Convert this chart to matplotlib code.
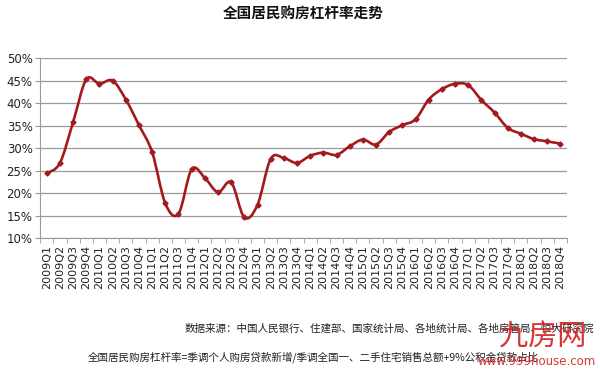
import matplotlib
matplotlib.use("Agg")
import matplotlib.pyplot as plt
from matplotlib.path import Path
from matplotlib.patches import PathPatch
from matplotlib.ticker import FixedLocator, NullFormatter

plt.rcParams['font.family'] = ['Noto Sans CJK SC', 'DejaVu Sans']

# quarters 2009Q1 .. 2018Q4
quarters = [f"{y}Q{q}" for y in range(2009, 2019) for q in range(1, 5)]

# leverage ratio (%)
leverage = [
    24.4, 26.7, 35.8, 45.3,
    44.3, 45.0, 40.8, 35.1,
    29.1, 17.7, 15.4, 25.3,
    23.4, 20.2, 22.4, 14.6,
    17.4, 27.6, 27.8, 26.7,
    28.3, 29.0, 28.5, 30.4,
    31.9, 30.8, 33.6, 35.1,
    36.4, 40.8, 43.1, 44.3,
    44.0, 40.7, 37.9, 34.5,
    33.2, 32.0, 31.5, 31.0,
]

yticks = [10, 15, 20, 25, 30, 35, 40, 45, 50]

title = "全国居民购房杠杆率走势"
source = "数据来源：中国人民银行、住建部、国家统计局、各地统计局、各地房管局、恒大研究院"
note = "全国居民购房杠杆率=季调个人购房贷款新增/季调全国一、二手住宅销售总额+9%公积金贷款占比"

LINE = "#A31A1E"
GRID = "#9A9A9A"


def smooth_path(xs, ys, tension=1 / 6):
    # excel-like smoothed line: cubic bezier segments with catmull-rom handles
    n = len(xs)
    verts = [(xs[0], ys[0])]
    codes = [Path.MOVETO]
    for i in range(n - 1):
        x0, y0 = (xs[i - 1], ys[i - 1]) if i > 0 else (xs[i], ys[i])
        x1, y1 = xs[i], ys[i]
        x2, y2 = xs[i + 1], ys[i + 1]
        x3, y3 = (xs[i + 2], ys[i + 2]) if i + 2 < n else (x2, y2)
        c1 = (x1 + (x2 - x0) * tension, y1 + (y2 - y0) * tension)
        c2 = (x2 - (x3 - x1) * tension, y2 - (y3 - y1) * tension)
        verts += [c1, c2, (x2, y2)]
        codes += [Path.CURVE4] * 3
    return Path(verts, codes)


fig = plt.figure(figsize=(6, 3.75), dpi=100)
ax = fig.add_axes([0.067, 0.365, 0.878, 0.48])

xs = list(range(len(quarters)))
ax.add_patch(PathPatch(smooth_path(xs, leverage), fill=False, edgecolor=LINE,
                       lw=1.9, zorder=3, capstyle="round", joinstyle="round"))
ax.plot(xs, leverage, ls="none", marker="D", ms=2.6, color=LINE, zorder=4)

ax.set_xlim(-0.5, len(quarters) - 0.5)
ax.set_ylim(10, 50)
ax.set_yticks(yticks)
ax.set_yticklabels([f"{v}%" for v in yticks], fontsize=8.5, family="DejaVu Sans", color="#222222")
ax.yaxis.grid(True, color=GRID, lw=0.9)
ax.set_axisbelow(True)

# category labels centred, tick marks on category boundaries
ax.set_xticks(xs)
ax.set_xticklabels(quarters, rotation=90, fontsize=8, family="DejaVu Sans", color="#222222")
ax.tick_params(axis="x", length=0, pad=5)
ax.xaxis.set_minor_locator(FixedLocator([i - 0.5 for i in range(len(quarters) + 1)]))
ax.xaxis.set_minor_formatter(NullFormatter())
ax.tick_params(axis="x", which="minor", length=3.5, color=GRID, direction="out")
ax.tick_params(axis="y", length=3.5, color=GRID, pad=2)

for side in ("top", "right"):
    ax.spines[side].set_visible(False)
ax.spines["left"].set_color(GRID)
ax.spines["bottom"].set_color(GRID)

fig.text(0.505, 0.962, title, ha="center", va="center", fontsize=10.5, fontweight="bold",
         color="#111111")
fig.text(0.308, 0.125, source, ha="left", va="center", fontsize=7.6, color="#222222")
fig.text(0.147, 0.048, note, ha="left", va="center", fontsize=7.6, color="#222222")

# watermark
fig.text(0.905, 0.1, "九房网", ha="center", va="center", fontsize=21, color="#D42020",
         alpha=0.9)
fig.text(0.993, 0.035, "www.999house.com", ha="right", va="center", fontsize=8.5,
         family="DejaVu Sans", color="#D42020", alpha=0.9)

fig.savefig("out.png", dpi=100)
